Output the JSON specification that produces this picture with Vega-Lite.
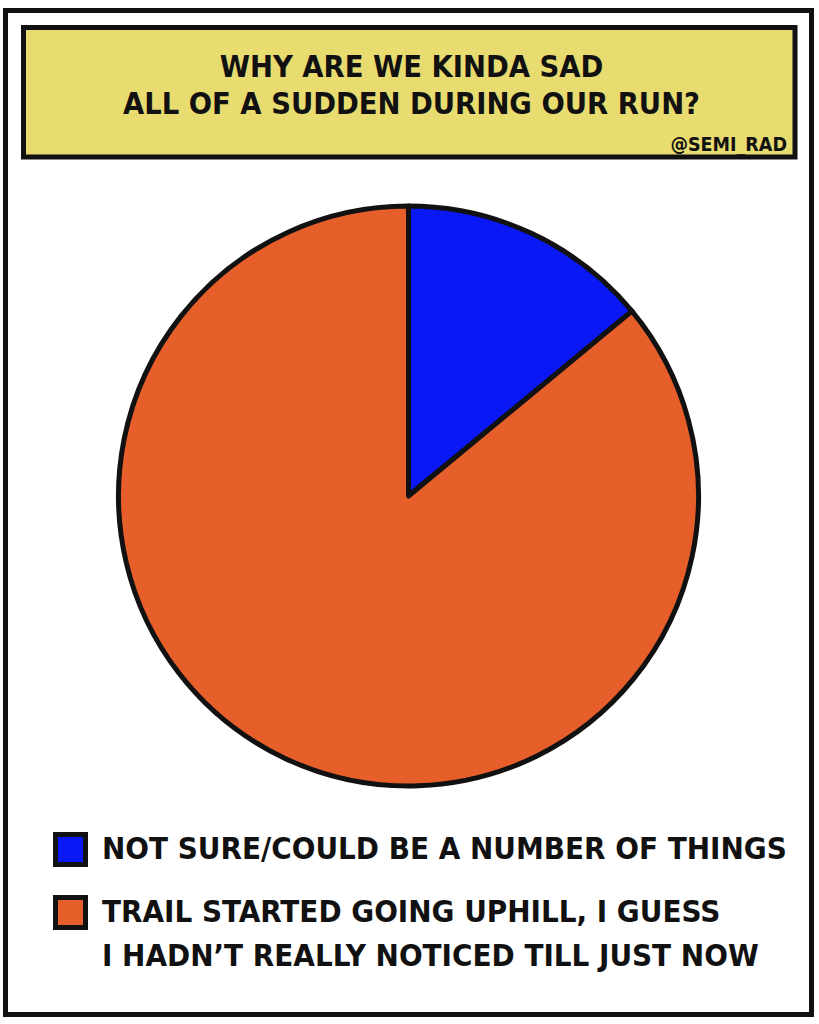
{
  "$schema": "https://vega.github.io/schema/vega-lite/v6.json",
  "background": "white",
  "autosize": {"type": "fit", "contains": "padding"},
  "width": 819,
  "height": 1024,
  "padding": {"left": 5.5, "top": 10.5, "right": 7.5, "bottom": 9.5},
  "view": {"stroke": "#111111", "strokeWidth": 5},
  "layer": [
    {
      "data": {"values": [{"headline": "WHY ARE WE KINDA SAD\nALL OF A SUDDEN DURING OUR RUN?", "credit": "@SEMI_RAD"}]},
      "layer": [
        {
          "mark": {"type": "rect", "fill": "#e8db70", "stroke": "#111111", "strokeWidth": 5},
          "encoding": {"x": {"value": 18}, "x2": {"value": 789.5}, "y": {"value": 17}, "y2": {"value": 146.5}}
        },
        {
          "mark": {"type": "text", "font": "Liberation Sans Narrow, DejaVu Sans Condensed, Roboto Condensed, Liberation Sans, sans-serif", "fontWeight": "bold", "fontSize": 30.5, "lineHeight": 37, "lineBreak": "\n", "color": "#111111", "align": "center", "baseline": "middle"},
          "encoding": {"text": {"field": "headline"}, "x": {"value": 406}, "y": {"value": 57}}
        },
        {
          "mark": {"type": "text", "font": "Liberation Sans Narrow, DejaVu Sans Condensed, Roboto Condensed, Liberation Sans, sans-serif", "fontWeight": "bold", "fontSize": 19.5, "color": "#111111", "align": "right", "baseline": "alphabetic"},
          "encoding": {"text": {"field": "credit"}, "x": {"value": 781.5}, "y": {"value": 140}}
        }
      ]
    },
    {
      "data": {"values": [
        {"reason": "NOT SURE/COULD BE A NUMBER OF THINGS", "share": 14},
        {"reason": "TRAIL STARTED GOING UPHILL, I GUESS\nI HADN’T REALLY NOTICED TILL JUST NOW", "share": 86}
      ]},
      "mark": {"type": "arc", "radius": 290, "stroke": "#111111", "strokeWidth": 5, "strokeJoin": "round", "yOffset": -16.5},
      "encoding": {
        "theta": {"field": "share", "type": "quantitative", "stack": true},
        "color": {
          "field": "reason",
          "type": "nominal",
          "scale": {"domain": ["NOT SURE/COULD BE A NUMBER OF THINGS", "TRAIL STARTED GOING UPHILL, I GUESS\nI HADN’T REALLY NOTICED TILL JUST NOW"], "range": ["#0a18f5", "#e65f2b"]},
          "legend": {
            "title": null,
            "orient": "none",
            "legendX": 47.5,
            "legendY": 821.5,
            "padding": 0,
            "direction": "vertical",
            "symbolType": "square",
            "symbolSize": 900,
            "symbolStrokeColor": "#111111",
            "symbolStrokeWidth": 5,
            "symbolOpacity": 1,
            "labelFont": "Liberation Sans Narrow, DejaVu Sans Condensed, Roboto Condensed, Liberation Sans, sans-serif",
            "labelFontWeight": "bold",
            "labelFontSize": 31,
            "labelColor": "#111111",
            "labelLimit": 0,
            "labelOffset": 14,
            "rowPadding": 12,
            "labelExpr": "split(datum.label, '\\n')",
            "encode": {"labels": {"update": {"lineHeight": {"value": 44}}}}
          }
        }
      }
    }
  ]
}
